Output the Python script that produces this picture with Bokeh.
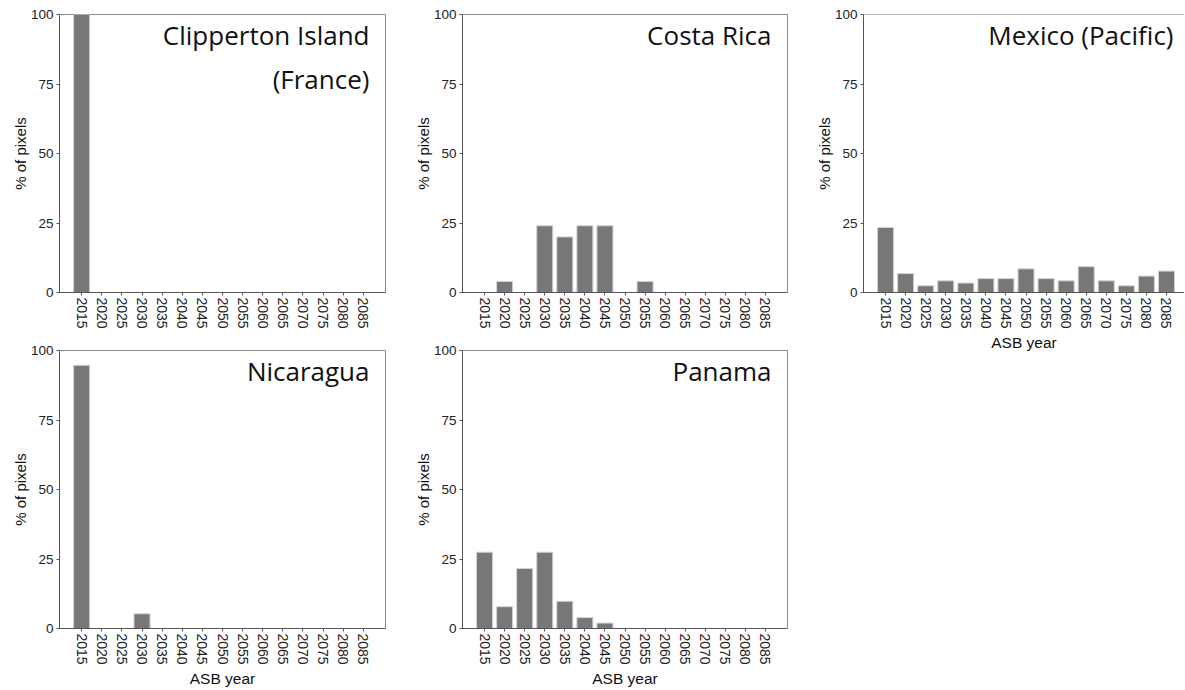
from bokeh.plotting import figure
from bokeh.models import Range1d, FixedTicker, Label, Span
from bokeh.layouts import row, column
from bokeh.embed import file_html
from bokeh.resources import INLINE

years = ["2015", "2020", "2025", "2030", "2035", "2040", "2045", "2050",
         "2055", "2060", "2065", "2070", "2075", "2080", "2085"]
clipperton = [100, 0, 0, 0, 0, 0, 0, 0, 0, 0, 0, 0, 0, 0, 0]
costa_rica = [0, 4, 0, 24, 20, 24, 24, 0, 4, 0, 0, 0, 0, 0, 0]
mexico = [23.4, 6.8, 2.4, 4.2, 3.4, 5.0, 5.0, 8.5, 5.0, 4.2, 9.3, 4.2, 2.4, 5.9, 7.7]
nicaragua = [94.7, 0, 0, 5.3, 0, 0, 0, 0, 0, 0, 0, 0, 0, 0, 0]
panama = [27.45, 7.84, 21.57, 27.45, 9.80, 3.92, 1.96, 0, 0, 0, 0, 0, 0, 0, 0]
y_ticks = [0, 25, 50, 75, 100]

TICK_FONT = "Liberation Sans"
TITLE_FONT = "Open Sans"


def panel(title, vals, left, right, top, bottom, fw, x_end, xlabel=None,
          title_dx=-16, cut_right=False):
    idx = list(range(len(years)))
    p = figure(frame_width=fw, frame_height=278,
               min_border_left=left, min_border_right=right,
               min_border_top=top, min_border_bottom=bottom,
               x_range=Range1d(-1.1, x_end), y_range=Range1d(0, 100),
               output_backend="svg", toolbar_location=None)
    p.vbar(x=idx, top=vals, width=0.8, fill_color="#777777",
           line_color="#d4d4d4", line_width=1)
    p.grid.visible = False
    if cut_right:
        # panel continues past the page edge: only the top border shows
        p.outline_line_color = None
        p.add_layout(Span(location=100, dimension="width",
                          line_color="#7a7a7a", line_width=1))
    else:
        p.outline_line_color = "#8a8a8a"
        p.outline_line_width = 1

    xa = p.xaxis[0]
    xa.ticker = FixedTicker(ticks=idx)
    xa.major_label_overrides = {i: y for i, y in enumerate(years)}
    xa.major_label_orientation = "vertical"
    xa.minor_tick_line_color = None
    xa.major_tick_in = 0
    xa.major_tick_out = 3
    xa.major_label_standoff = 2
    xa.axis_line_color = "#555555"
    xa.major_tick_line_color = "#555555"
    xa.major_label_text_font = TICK_FONT
    xa.major_label_text_font_size = "14px"
    xa.major_label_text_color = "#222222"
    if xlabel:
        xa.axis_label = xlabel
        xa.axis_label_text_font = TICK_FONT
        xa.axis_label_text_font_size = "15.5px"
        xa.axis_label_text_font_style = "normal"
        xa.axis_label_text_color = "#111111"
        xa.axis_label_standoff = 2

    ya = p.yaxis[0]
    ya.ticker = FixedTicker(ticks=y_ticks)
    ya.minor_tick_line_color = None
    ya.major_tick_in = 0
    ya.major_tick_out = 3
    ya.major_label_standoff = 3
    ya.axis_line_color = "#555555"
    ya.major_tick_line_color = "#555555"
    ya.major_label_text_font = TICK_FONT
    ya.major_label_text_font_size = "13.5px"
    ya.major_label_text_color = "#222222"
    ya.axis_label = "% of pixels"
    ya.axis_label_text_font = TICK_FONT
    ya.axis_label_text_font_size = "15px"
    ya.axis_label_text_font_style = "normal"
    ya.axis_label_text_color = "#111111"
    ya.axis_label_standoff = -1

    lab = Label(x=x_end, y=100, x_offset=title_dx, y_offset=-2, text=title,
                text_align="right", text_baseline="top",
                text_font=TITLE_FONT, text_font_size="26px",
                text_color="#111111", text_line_height=1.23)
    p.add_layout(lab)
    return p


p_clip = panel("Clipperton Island\n(France)", clipperton, 59, 20, 14, 51, 326, 15.1)
p_nic = panel("Nicaragua", nicaragua, 59, 20, 7, 60, 326, 15.1, xlabel="ASB year")
p_cr = panel("Costa Rica", costa_rica, 57, 20, 14, 51, 325, 15.1)
p_pan = panel("Panama", panama, 57, 20, 7, 60, 325, 15.1, xlabel="ASB year")
p_mex = panel("Mexico (Pacific)", mexico, 56, 0, 14, 62, 321, 14.9,
              xlabel="ASB year", title_dx=-11, cut_right=True)

layout = row(column(p_clip, p_nic), column(p_cr, p_pan), column(p_mex))

open("out.html", "w").write(file_html(layout, INLINE))
